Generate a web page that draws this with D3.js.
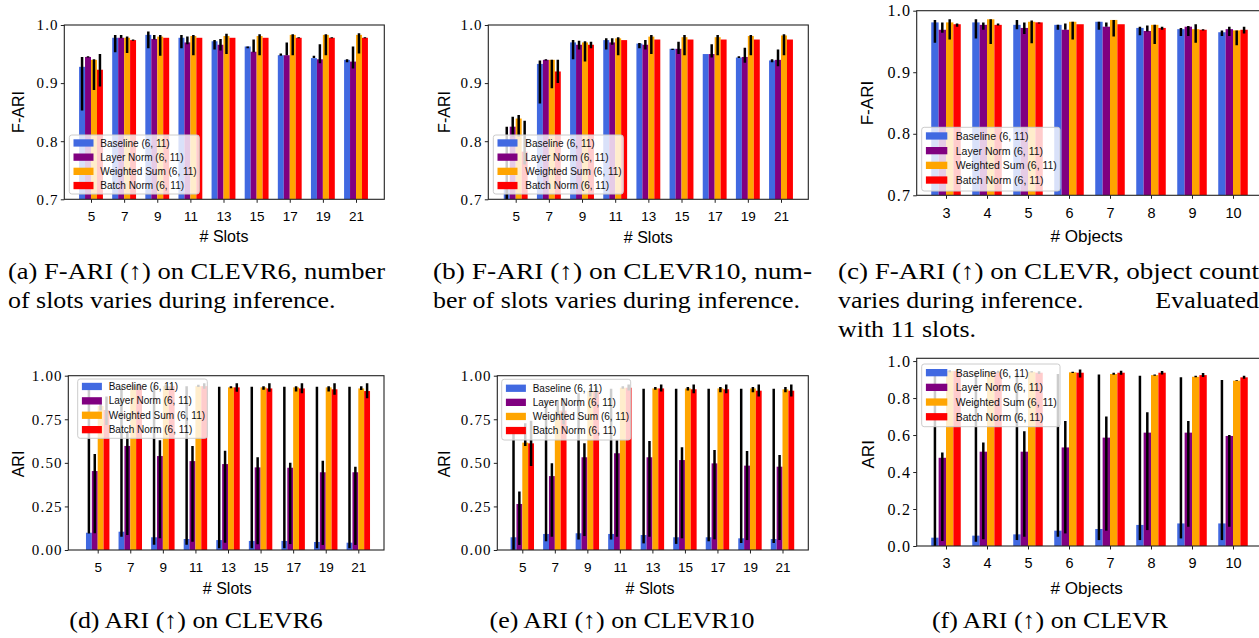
<!DOCTYPE html>
<html>
<head>
<meta charset="utf-8">
<script src="https://cdn.jsdelivr.net/npm/d3@7"></script>
<style>
  body { margin: 0; background: #fff; }
  svg { display: block; }
</style>
</head>
<body>
<svg id="fig" width="1259" height="638"></svg>
<script>
// categories
const slots = [5, 7, 9, 11, 13, 15, 17, 19, 21];
const objects = [3, 4, 5, 6, 7, 8, 9, 10];
const seriesNames = ["Baseline (6, 11)", "Layer Norm (6, 11)", "Weighted Sum (6, 11)", "Batch Norm (6, 11)"];
const seriesColors = ["#4169e1", "#800080", "#ffa500", "#ff0000"];

// each entry: [mean, lower end of error bar, upper end of error bar]
// (a) F-ARI, CLEVR6, slots
const aBaseline = [[0.928,0.853,0.945],[0.978,0.953,0.983],[0.983,0.960,0.989],[0.978,0.960,0.983],[0.972,0.958,0.974],[0.963,0.960,0.963],[0.948,0.947,0.951],[0.943,0.943,0.947],[0.940,0.936,0.941]];
const aLayerNorm = [[0.945,0.944,0.946],[0.978,0.977,0.983],[0.976,0.975,0.983],[0.970,0.967,0.980],[0.966,0.956,0.976],[0.954,0.953,0.975],[0.948,0.948,0.970],[0.941,0.934,0.967],[0.937,0.925,0.963]];
const aWeighted = [[0.940,0.888,0.941],[0.978,0.952,0.980],[0.980,0.947,0.983],[0.981,0.948,0.983],[0.981,0.950,0.985],[0.981,0.948,0.984],[0.983,0.948,0.984],[0.983,0.948,0.984],[0.983,0.951,0.986]];
const aBatchNorm = [[0.923,0.894,0.950],[0.974,0.973,0.975],[0.978,0.978,0.978],[0.978,0.978,0.978],[0.978,0.978,0.978],[0.978,0.978,0.978],[0.978,0.977,0.979],[0.978,0.977,0.979],[0.978,0.977,0.979]];

// (b) F-ARI, CLEVR10, slots
const bBaseline = [[0.720,0.620,0.825],[0.933,0.865,0.939],[0.970,0.941,0.974],[0.974,0.958,0.977],[0.968,0.960,0.969],[0.959,0.957,0.959],[0.950,0.950,0.950],[0.944,0.943,0.946],[0.939,0.936,0.941]];
const bLayerNorm = [[0.825,0.808,0.842],[0.940,0.939,0.941],[0.966,0.958,0.973],[0.970,0.966,0.977],[0.966,0.958,0.974],[0.959,0.950,0.971],[0.950,0.944,0.967],[0.945,0.935,0.961],[0.940,0.929,0.958]];
const bWeighted = [[0.839,0.808,0.845],[0.940,0.891,0.940],[0.970,0.937,0.972],[0.977,0.948,0.979],[0.980,0.950,0.983],[0.979,0.948,0.983],[0.979,0.948,0.983],[0.981,0.948,0.983],[0.982,0.948,0.984]];
const bBatchNorm = [[0.782,0.760,0.835],[0.920,0.900,0.940],[0.966,0.960,0.971],[0.974,0.974,0.974],[0.975,0.975,0.975],[0.975,0.975,0.975],[0.975,0.975,0.975],[0.975,0.975,0.975],[0.975,0.975,0.975]];

// (c) F-ARI, CLEVR, objects
const cBaseline = [[0.981,0.948,0.985],[0.981,0.955,0.986],[0.977,0.970,0.985],[0.977,0.969,0.977],[0.982,0.969,0.982],[0.972,0.960,0.974],[0.970,0.959,0.972],[0.965,0.959,0.968]];
const cLayerNorm = [[0.969,0.964,0.981],[0.977,0.969,0.981],[0.972,0.962,0.981],[0.969,0.969,0.979],[0.974,0.974,0.981],[0.967,0.966,0.976],[0.974,0.959,0.975],[0.970,0.959,0.974]];
const cWeighted = [[0.981,0.953,0.986],[0.986,0.946,0.986],[0.982,0.947,0.984],[0.982,0.953,0.982],[0.985,0.958,0.985],[0.977,0.946,0.977],[0.970,0.948,0.978],[0.968,0.944,0.968]];
const cBatchNorm = [[0.978,0.974,0.979],[0.977,0.976,0.979],[0.981,0.979,0.981],[0.978,0.978,0.978],[0.978,0.978,0.978],[0.972,0.969,0.974],[0.969,0.968,0.970],[0.969,0.963,0.974]];

// (d) ARI, CLEVR6, slots
const dBaseline = [[0.099,0.095,0.930],[0.105,0.076,0.940],[0.073,0.030,0.940],[0.063,0.030,0.940],[0.057,0.010,0.937],[0.052,0.010,0.937],[0.052,0.010,0.937],[0.046,0.010,0.937],[0.042,0.010,0.937]];
const dLayerNorm = [[0.453,0.096,0.551],[0.597,0.086,0.680],[0.539,0.067,0.630],[0.510,0.048,0.597],[0.493,0.042,0.570],[0.474,0.033,0.532],[0.472,0.034,0.501],[0.446,0.029,0.512],[0.446,0.029,0.478]];
const dWeighted = [[0.826,0.800,0.850],[0.940,0.920,0.950],[0.940,0.920,0.950],[0.940,0.935,0.948],[0.933,0.928,0.940],[0.933,0.920,0.940],[0.933,0.910,0.940],[0.933,0.910,0.940],[0.927,0.918,0.940]];
const dBatchNorm = [[0.803,0.717,0.880],[0.940,0.920,0.955],[0.940,0.920,0.955],[0.940,0.925,0.956],[0.933,0.908,0.956],[0.927,0.908,0.956],[0.927,0.900,0.956],[0.922,0.890,0.956],[0.912,0.870,0.956]];

// (e) ARI, CLEVR10, slots
const eBaseline = [[0.073,0.000,0.700],[0.092,0.050,0.860],[0.096,0.060,0.900],[0.092,0.060,0.925],[0.086,0.038,0.925],[0.073,0.035,0.925],[0.073,0.050,0.925],[0.067,0.040,0.925],[0.063,0.040,0.925]];
const eLayerNorm = [[0.264,0.029,0.335],[0.424,0.076,0.497],[0.532,0.080,0.612],[0.555,0.076,0.630],[0.532,0.076,0.625],[0.516,0.067,0.589],[0.497,0.061,0.574],[0.484,0.057,0.568],[0.478,0.057,0.545]];
const eWeighted = [[0.616,0.597,0.727],[0.800,0.760,0.860],[0.910,0.880,0.930],[0.931,0.925,0.940],[0.927,0.920,0.935],[0.927,0.915,0.935],[0.927,0.905,0.935],[0.927,0.905,0.935],[0.922,0.905,0.935]];
const eBatchNorm = [[0.612,0.482,0.742],[0.800,0.720,0.870],[0.910,0.870,0.940],[0.931,0.915,0.950],[0.927,0.910,0.950],[0.922,0.900,0.950],[0.922,0.900,0.950],[0.914,0.880,0.950],[0.914,0.880,0.950]];

// (f) ARI, CLEVR, objects
const fBaseline = [[0.045,0.000,0.940],[0.056,0.023,0.935],[0.063,0.032,0.935],[0.083,0.050,0.930],[0.092,0.032,0.928],[0.114,0.032,0.920],[0.122,0.041,0.912],[0.122,0.032,0.897]];
const fLayerNorm = [[0.477,0.027,0.506],[0.510,0.036,0.560],[0.510,0.050,0.620],[0.533,0.068,0.676],[0.586,0.083,0.700],[0.613,0.086,0.723],[0.613,0.104,0.676],[0.595,0.104,0.600]];
const fWeighted = [[0.946,0.940,0.950],[0.940,0.935,0.945],[0.942,0.938,0.946],[0.939,0.935,0.942],[0.930,0.926,0.937],[0.924,0.920,0.928],[0.915,0.912,0.920],[0.894,0.892,0.896]];
const fBatchNorm = [[0.946,0.940,0.952],[0.940,0.935,0.948],[0.937,0.930,0.945],[0.937,0.911,0.955],[0.937,0.926,0.948],[0.937,0.928,0.946],[0.924,0.914,0.935],[0.912,0.905,0.920]];

const ticksFARI = [0.7, 0.8, 0.9, 1.0];
const ticksARI4 = [0, 0.25, 0.5, 0.75, 1.0];
const ticksARI5 = [0, 0.2, 0.4, 0.6, 0.8, 1.0];

const SANS = "'Liberation Sans', Arial, sans-serif";
const SERIF = "'Liberation Serif', 'Times New Roman', serif";

// layout of each panel (pixels)
const panels = [
  { cats: slots, series: [aBaseline, aLayerNorm, aWeighted, aBatchNorm], ydom: [0.7, 1.0], yticks: ticksFARI, fmt: ".1f",
    left: 64.3, right: 384.3, top: 25, bottom: 199.3, tx0: 91, tx1: 356,
    ylabel: "F-ARI", ylx: 18.3, yly: 112, xlabel: "# Slots", xlx: 224, xly: 236, k: 1,
    legend: { x: 69.3, y: 135, w: 130, h: 59, r0: 8, step: 14.2, fs: 10, tx: 31 } },
  { cats: slots, series: [bBaseline, bLayerNorm, bWeighted, bBatchNorm], ydom: [0.7, 1.0], yticks: ticksFARI, fmt: ".1f",
    left: 488.3, right: 808.3, top: 25, bottom: 199.3, tx0: 515.7, tx1: 781,
    ylabel: "F-ARI", ylx: 444.3, yly: 112, xlabel: "# Slots", xlx: 648.3, xly: 237, k: 1,
    legend: { x: 493.3, y: 135, w: 130, h: 59, r0: 8, step: 14.2, fs: 10, tx: 32 } },
  { cats: objects, series: [cBaseline, cLayerNorm, cWeighted, cBatchNorm], ydom: [0.7, 1.0], yticks: ticksFARI, fmt: ".1f",
    left: 916.7, right: 1262, top: 10.7, bottom: 195.3, tx0: 946, tx1: 1233,
    ylabel: "F-ARI", ylx: 867.7, yly: 103, xlabel: "# Objects", xlx: 1086.7, xly: 236, k: 1.07,
    legend: { x: 921.7, y: 127.3, w: 138.3, h: 63.7, r0: 8.7, step: 14.7, fs: 10.5, tx: 34 } },
  { cats: slots, series: [dBaseline, dLayerNorm, dWeighted, dBatchNorm], ydom: [0, 1.0], yticks: ticksARI4, fmt: ".2f",
    left: 68.3, right: 384, top: 375.7, bottom: 550, tx0: 97.7, tx1: 358.3,
    ylabel: "ARI", ylx: 18.3, yly: 464, xlabel: "# Slots", xlx: 227.3, xly: 588.3, k: 1,
    legend: { x: 77.7, y: 379, w: 129.6, h: 59.3, r0: 7.5, step: 14.4, fs: 10, tx: 31 } },
  { cats: slots, series: [eBaseline, eLayerNorm, eWeighted, eBatchNorm], ydom: [0, 1.0], yticks: ticksARI4, fmt: ".2f",
    left: 497.3, right: 808.3, top: 375.7, bottom: 550, tx0: 522.3, tx1: 782.5,
    ylabel: "ARI", ylx: 444, yly: 464, xlabel: "# Slots", xlx: 650, xly: 588, k: 1,
    legend: { x: 501.7, y: 379.3, w: 129, h: 60.7, r0: 9, step: 14.1, fs: 10, tx: 31 } },
  { cats: objects, series: [fBaseline, fLayerNorm, fWeighted, fBatchNorm], ydom: [0, 1.015], yticks: ticksARI5, fmt: ".1f",
    left: 916.7, right: 1262, top: 358.3, bottom: 546, tx0: 946, tx1: 1233,
    ylabel: "ARI", ylx: 868.3, yly: 454.3, xlabel: "# Objects", xlx: 1086.7, xly: 588.3, k: 1.07,
    legend: { x: 921.7, y: 364, w: 138.3, h: 62.7, r0: 8.7, step: 14.7, fs: 10.5, tx: 34 } }
];

// sub-captions: [text, x, baseline y, justified width (null = natural), anchor]
const captions = [
  ["(a) F-ARI (\u2191) on CLEVR6, number", 8, 279, 377, "start"],
  ["of slots varies during inference.", 8, 308, null, "start"],
  ["(b) F-ARI (\u2191) on CLEVR10, num-", 433, 279, 379, "start"],
  ["ber of slots varies during inference.", 433, 308, null, "start"],
  ["(c) F-ARI (\u2191) on CLEVR, object count", 838, 279, 421, "start"],
  ["varies during inference.", 838, 308, null, "start"],
  ["Evaluated", 1259, 308, null, "end"],
  ["with 11 slots.", 838, 337, null, "start"],
  ["(d) ARI (\u2191) on CLEVR6", 196, 628, null, "middle"],
  ["(e) ARI (\u2191) on CLEVR10", 622, 628, null, "middle"],
  ["(f) ARI (\u2191) on CLEVR", 1050, 628, null, "middle"]
];

const svg = d3.select("#fig");
const defs = svg.append("defs");

function drawPanel(p, idx) {
  const n = p.cats.length;
  const x = d3.scaleLinear().domain([0, n - 1]).range([p.tx0, p.tx1]);
  const y = d3.scaleLinear().domain(p.ydom).range([p.bottom, p.top]);
  const bw = 0.18 * (p.tx1 - p.tx0) / (n - 1);

  const clipId = "clip" + idx;
  defs.append("clipPath").attr("id", clipId).append("rect")
    .attr("x", p.left).attr("y", p.top)
    .attr("width", p.right - p.left).attr("height", p.bottom - p.top);

  const g = svg.append("g");
  const plot = g.append("g").attr("clip-path", `url(#${clipId})`);

  // bars
  p.series.forEach((s, k) => {
    plot.append("g").selectAll("rect").data(s).join("rect")
      .attr("x", (d, i) => x(i) + (k - 2) * bw)
      .attr("width", bw)
      .attr("y", d => y(d[0]))
      .attr("height", d => Math.max(0, p.bottom - y(d[0])))
      .attr("fill", seriesColors[k]);
  });

  // error bars on top
  p.series.forEach((s, k) => {
    plot.append("g").selectAll("line").data(s).join("line")
      .attr("x1", (d, i) => x(i) + (k - 1.5) * bw)
      .attr("x2", (d, i) => x(i) + (k - 1.5) * bw)
      .attr("y1", d => y(d[1]))
      .attr("y2", d => y(d[2]))
      .attr("stroke", "#000")
      .attr("stroke-width", 2.5);
  });

  // axes
  const xAxis = d3.axisBottom(x).tickValues(d3.range(n)).tickFormat(i => p.cats[i])
    .tickSize(3.5).tickPadding(8.5);
  const ax = g.append("g").attr("transform", `translate(0,${p.bottom})`).call(xAxis);
  ax.select(".domain").remove();
  ax.selectAll("line").attr("stroke", "#222");
  ax.selectAll("text").attr("font-family", SANS).attr("font-size", 13.5 * p.k).attr("fill", "#000");

  const yAxis = d3.axisLeft(y).tickValues(p.yticks).tickFormat(d3.format(p.fmt))
    .tickSize(3.5).tickPadding(2);
  const ay = g.append("g").attr("transform", `translate(${p.left},0)`).call(yAxis);
  ay.select(".domain").remove();
  ay.selectAll("line").attr("stroke", "#222");
  ay.selectAll("text").attr("font-family", SERIF).attr("font-size", 15 * p.k)
    .attr("letter-spacing", "1.2px").attr("fill", "#000");

  // frame
  g.append("rect")
    .attr("x", p.left).attr("y", p.top)
    .attr("width", p.right - p.left).attr("height", p.bottom - p.top)
    .attr("fill", "none").attr("stroke", "#222").attr("stroke-width", 1.1);

  // axis titles
  g.append("text")
    .attr("transform", `translate(${p.ylx},${p.yly}) rotate(-90)`)
    .attr("text-anchor", "middle").attr("dominant-baseline", "central")
    .attr("font-family", SANS).attr("font-size", 16 * p.k)
    .text(p.ylabel);
  g.append("text")
    .attr("x", p.xlx).attr("y", p.xly)
    .attr("text-anchor", "middle").attr("dominant-baseline", "central")
    .attr("font-family", SANS).attr("font-size", 16 * p.k)
    .text(p.xlabel);

  // legend
  const L = p.legend;
  const lg = g.append("g");
  lg.append("rect")
    .attr("x", L.x).attr("y", L.y).attr("width", L.w).attr("height", L.h)
    .attr("rx", 2.5)
    .attr("fill", "#fff").attr("fill-opacity", 0.8)
    .attr("stroke", "#cccccc").attr("stroke-width", 1);
  const rows = lg.selectAll("g.row").data(seriesNames).join("g").attr("class", "row")
    .attr("transform", (d, i) => `translate(${L.x},${L.y + L.r0 + i * L.step})`);
  rows.append("rect")
    .attr("x", 4.2).attr("y", -3.7).attr("width", 20 * p.k).attr("height", 7.3)
    .attr("fill", (d, i) => seriesColors[i]);
  rows.append("text")
    .attr("x", L.tx).attr("y", 0).attr("dominant-baseline", "central")
    .attr("font-family", SANS).attr("font-size", L.fs).attr("fill", "#111")
    .text(d => d);
}

panels.forEach(drawPanel);

// captions: the original is set in Computer Modern, a little wider than Times,
// so natural lines get stretched by ~8%, justified lines fill their width
svg.append("g").selectAll("text").data(captions).join("text")
  .attr("x", d => d[1]).attr("y", d => d[2])
  .attr("text-anchor", d => d[4])
  .attr("font-family", SERIF).attr("font-size", 24)
  .attr("fill", "#000")
  .text(d => d[0])
  .each(function (d) {
    const w = d[3] || this.getComputedTextLength() * 1.08;
    d3.select(this).attr("textLength", w).attr("lengthAdjust", "spacingAndGlyphs");
  });
</script>
</body>
</html>
